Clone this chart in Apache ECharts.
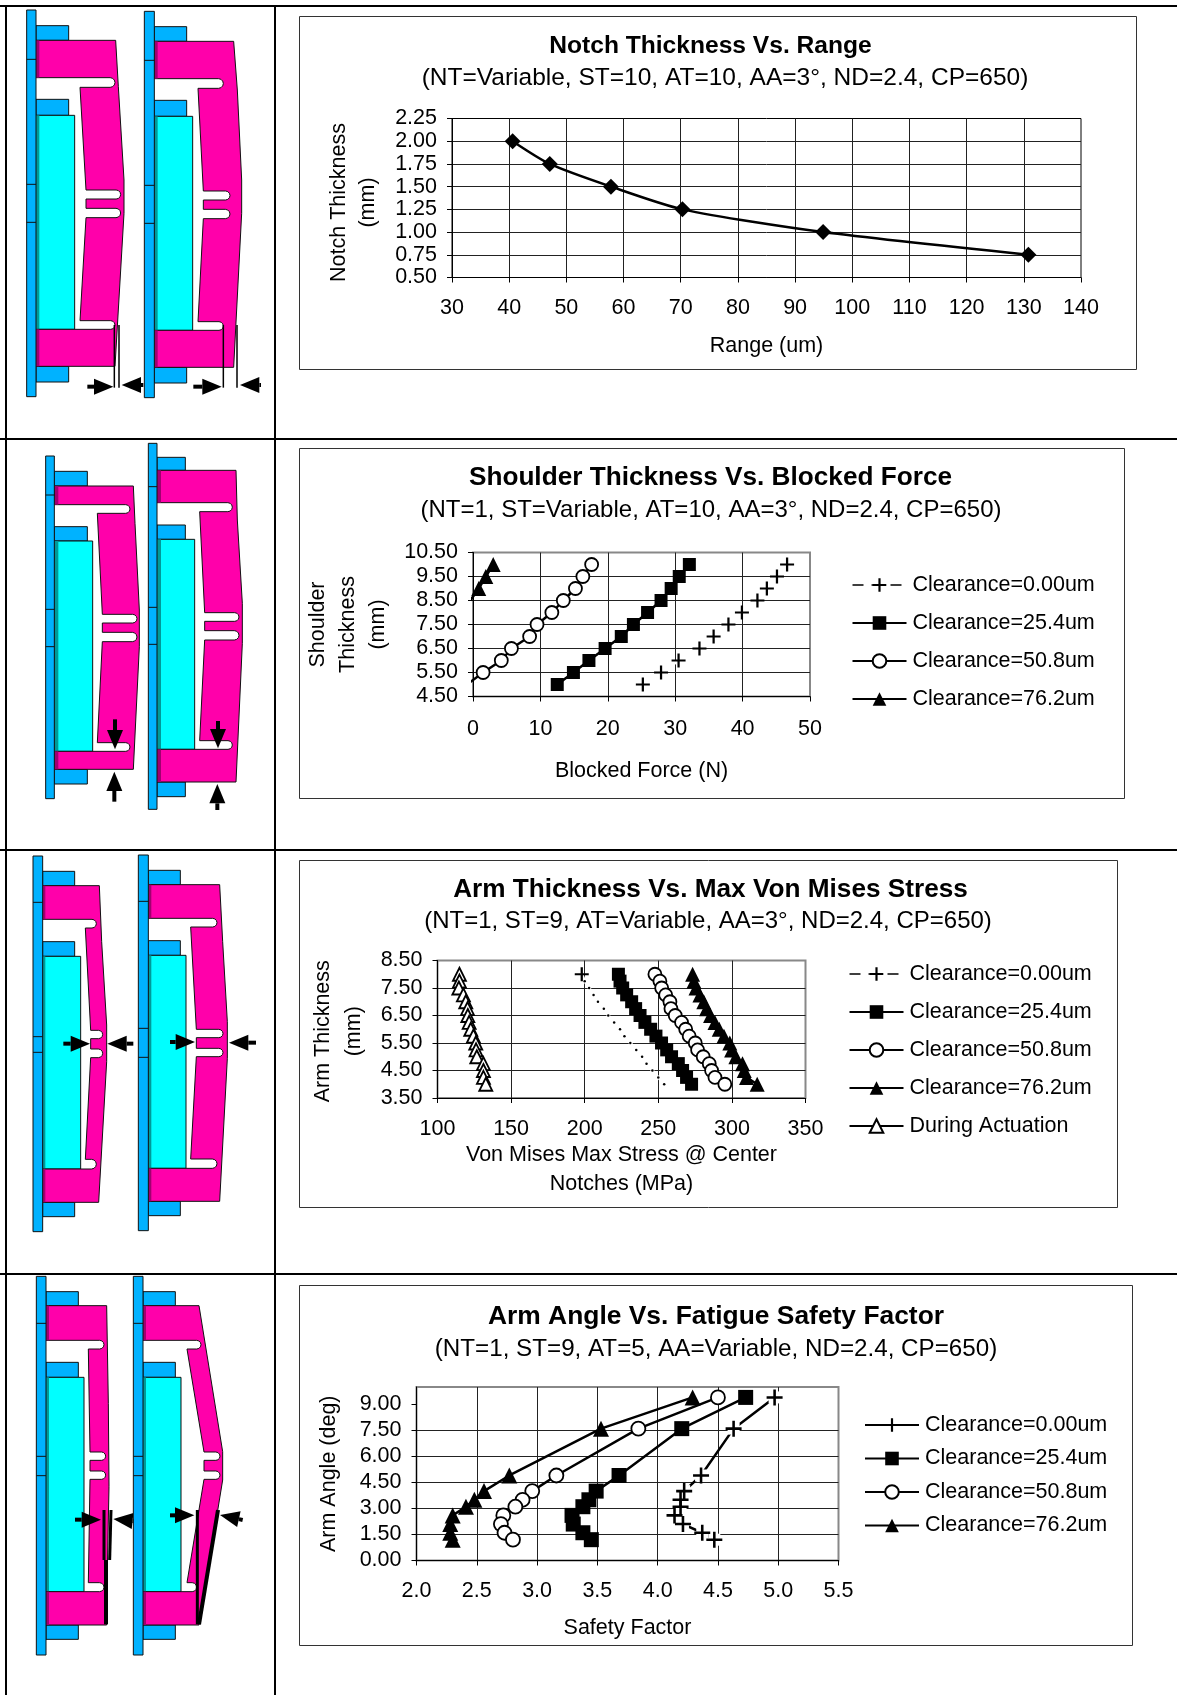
<!DOCTYPE html>
<html>
<head>
<meta charset="utf-8">
<title>Actuator charts</title>
<script src="https://cdn.jsdelivr.net/npm/echarts@6/dist/echarts.min.js"></script>
<style>
  html, body { margin: 0; padding: 0; background: #fff; }
  #main { width: 1177px; height: 1695px; }
</style>
</head>
<body>
<div id="main"></div>
<script>
// chart 1
const notchY = [2.0, 1.75, 1.5, 1.25, 1.0, 0.75]
const notchRange = [40.6, 47.1, 57.8, 70.3, 94.9, 130.8]
const notchTicks = [0.5, 0.75, 1.0, 1.25, 1.5, 1.75, 2.0, 2.25]

// chart 2
const shoulderY = [5, 5.5, 6, 6.5, 7, 7.5, 8, 8.5, 9, 9.5, 10]
const shoulderC0 = [25.2, 27.9, 30.5, 33.6, 35.7, 37.9, 39.9, 42.2, 43.6, 45.1, 46.6]
const shoulderC25 = [12.5, 14.9, 17.2, 19.6, 22.0, 23.8, 25.9, 27.9, 29.4, 30.6, 32.1]
const shoulderC50 = [-0.9, 1.5, 4.2, 5.7, 8.4, 9.5, 11.7, 13.4, 15.2, 16.3, 17.6]
const shoulderC76Y = [8.5, 9, 9.5, 10]
const shoulderC76 = [-0.4, 0.85, 1.9, 3.0]
const shoulderTicks = [4.5, 5.5, 6.5, 7.5, 8.5, 9.5, 10.5]

// chart 3
const armY = [8, 7.75, 7.5, 7.25, 7, 6.75, 6.5, 6.25, 6, 5.75, 5.5, 5.25, 5, 4.75, 4.5, 4.25, 4]
const armC0 = [198, 200, 203, 206, 209, 213, 216, 220, 224, 227, 231, 235, 239, 242, 246, 250, 254]
const armC25 = [222.9, 224, 225.8, 228.5, 231.9, 234.6, 237.6, 240.9, 244.8, 248.4, 252.2, 255.7, 259, 263.6, 266.5, 269.2, 272.6]
const armC50 = [247.7, 251.1, 252.3, 255, 257.9, 258.6, 261.5, 265.8, 268.6, 271, 275.1, 276.7, 280.5, 284.6, 286.2, 288.5, 295.2]
const armC76 = [273.3, 274.2, 275.6, 278.3, 280.9, 282.8, 285.5, 288.5, 291.4, 294.6, 298.6, 299.8, 302.7, 307.2, 308.4, 309.9, 317.2]
const armActuation = [114.9, 114.9, 114.5, 117.6, 119.2, 120.4, 120.6, 121.5, 122.6, 124.4, 126, 126.2, 126.7, 131.2, 131.2, 131.2, 132.8]
const armTicks = [3.5, 4.5, 5.5, 6.5, 7.5, 8.5]

// chart 4
const angleY = [9.4, 7.6, 4.9, 4, 3.5, 3.1, 2.6, 2.1, 1.6, 1.2]
const angleC0 = [4.97, 4.63, 4.36, 4.22, 4.19, 4.19, 4.14, 4.21, 4.37, 4.47]
const angleC25 = [4.73, 4.2, 3.68, 3.49, 3.43, 3.38, 3.29, 3.30, 3.38, 3.45]
const angleC50 = [4.5, 3.84, 3.16, 2.96, 2.88, 2.82, 2.72, 2.70, 2.73, 2.80]
const angleC76 = [4.29, 3.53, 2.77, 2.56, 2.48, 2.41, 2.30, 2.28, 2.28, 2.30]
const angleTicks = [0, 1.5, 3, 4.5, 6, 7.5, 9]

const FONT = '"Liberation Sans", Arial, sans-serif'
const TEXT_SIZE = 21.5
const PLUS = 'path://M4.2 0h1.6v4.2h4.2v1.6h-4.2v4.2h-1.6v-4.2h-4.2v-1.6h4.2z'
const BLACK = '#000'
const MAGENTA = '#ff00aa'
const RAIL = '#00b2ff'

const pairs = (xs, ys) => xs.map((v, i) => [v, ys[i]])

function lineSeries (name, xs, ys, idx, symbol, size, extra) {
  return Object.assign({
    name: name,
    type: 'line',
    xAxisIndex: idx,
    yAxisIndex: idx,
    data: pairs(xs, ys),
    symbol: symbol,
    symbolSize: size,
    showSymbol: true,
    showAllSymbol: true,
    lineStyle: { color: BLACK, width: 2.5 },
    itemStyle: { color: BLACK },
    emphasis: { disabled: true },
    animation: false
  }, extra || {})
}
const openMark = { itemStyle: { color: '#fff', borderColor: BLACK, borderWidth: 1.8 } }

function xAxis (idx, min, max, interval, decimals, name, gap, margin) {
  return {
    type: 'value', gridIndex: idx, min: min, max: max, interval: interval,
    name: name, nameLocation: 'middle', nameGap: gap,
    nameTextStyle: { fontFamily: FONT, fontSize: TEXT_SIZE, color: BLACK, lineHeight: 29 },
    axisLine: { onZero: false, lineStyle: { color: BLACK, width: 1 } },
    axisTick: { length: 5, lineStyle: { color: BLACK } },
    axisLabel: { fontFamily: FONT, fontSize: TEXT_SIZE, color: BLACK, margin: margin, formatter: v => v.toFixed(decimals), hideOverlap: false },
    splitLine: { show: true, showMinLine: false, showMaxLine: false, lineStyle: { color: '#222', width: 1 } }
  }
}
function yAxis (idx, min, max, ticks, decimals, name, gap, lineHeight, namePad) {
  return {
    type: 'value', gridIndex: idx, min: min, max: max,
    name: name, nameLocation: 'middle', nameGap: gap, nameRotate: 90,
    nameTextStyle: { fontFamily: FONT, fontSize: TEXT_SIZE, color: BLACK, lineHeight: lineHeight, padding: [0, namePad || 0, 0, 0] },
    axisLine: { onZero: false, lineStyle: { color: BLACK, width: 1 } },
    axisTick: { length: 5, customValues: ticks, lineStyle: { color: BLACK } },
    axisLabel: { fontFamily: FONT, fontSize: TEXT_SIZE, color: BLACK, margin: 15, customValues: ticks, formatter: v => v.toFixed(decimals), hideOverlap: false },
    splitLine: { show: true, showMinLine: false, showMaxLine: false, lineStyle: { color: '#222', width: 1 } }
  }
}
function legend (left, top, gap, items) {
  return {
    orient: 'vertical', left: left, top: top, padding: 0,
    itemWidth: 54, itemHeight: 17, itemGap: gap,
    selectedMode: false,
    textStyle: { fontFamily: FONT, fontSize: TEXT_SIZE, color: BLACK, padding: [0, 0, 0, 1] },
    formatter: n => n.split('|')[1],
    data: items
  }
}

// ---- the actuator sketches, numbers are pixels of a 3x crop of the sketch column
const sketches = [
  { o: [0, 0], rail: [80, 108, 30, 1190], seams: [178, 553, 667], blockR: 206, cyanR: 224, stripR: 118,
    y: [77, 121, 233, 262, 298, 346, 570, 597, 625, 653, 962, 988, 1099, 1146],
    outer: [[347, 121], [355, 260], [372, 540], [372, 640], [345, 1099]], inner: [240, 258, 240], slotTip: 345, notchTip: 362, botR: 342,
    lines: [[343, 975, 343, 1163, 1.5], [357, 975, 357, 1163, 1.5]], arrows: [[262, 1160, 340, 1160], [430, 1155, 365, 1155]] },
  { o: [0, 0], rail: [433, 463, 34, 1193], seams: [181, 556, 670], blockR: 560, cyanR: 578, stripR: 473,
    y: [80, 124, 236, 265, 301, 349, 573, 600, 628, 656, 965, 991, 1102, 1149],
    outer: [[701, 124], [712, 270], [725, 540], [725, 640], [701, 1102]], inner: [594, 610, 594], slotTip: 670, notchTip: 690, botR: 701,
    lines: [[670, 975, 670, 1163, 1.5], [711, 975, 711, 1163, 1.5]], arrows: [[580, 1160, 665, 1160], [783, 1155, 720, 1155]] },
  { o: [0, 430], rail: [137, 163, 78, 1106], seams: [195, 538, 650], blockR: 262, cyanR: 278, stripR: 175,
    y: [124, 168, 224, 250, 290, 333, 553, 579, 607, 635, 938, 964, 1018, 1062],
    outer: [[400, 168], [405, 280], [418, 540], [418, 650], [400, 1018]], inner: [292, 307, 292], slotTip: 390, notchTip: 411, botR: 400,
    lines: [], arrows: [[345, 868, 345, 958], [343, 1115, 343, 1025]] },
  { o: [0, 430], rail: [445, 471, 40, 1138], seams: [170, 532, 643], blockR: 556, cyanR: 584, stripR: 483,
    y: [82, 121, 218, 245, 285, 328, 548, 574, 602, 630, 932, 958, 1056, 1100],
    outer: [[708, 121], [712, 270], [727, 520], [727, 640], [708, 1056]], inner: [599, 614, 599], slotTip: 697, notchTip: 717, botR: 708,
    lines: [], arrows: [[654, 873, 654, 955], [652, 1140, 652, 1062]] },
  { o: [0, 845], rail: [99, 128, 33, 1160], seams: [172, 575, 622], blockR: 224, cyanR: 242, stripR: 136,
    y: [79, 122, 223, 249, 290, 334, 556, 581, 612, 638, 943, 972, 1072, 1115],
    outer: [[298, 122], [305, 290], [320, 540], [320, 650], [296, 1072]], inner: [256, 272, 256], slotTip: 289, notchTip: 308, botR: 298,
    lines: [], arrows: [[190, 596, 270, 596], [400, 596, 322, 596]] },
  { o: [0, 845], rail: [415, 445, 30, 1157], seams: [169, 550, 637], blockR: 541, cyanR: 558, stripR: 454,
    y: [76, 119, 220, 246, 287, 331, 553, 578, 610, 635, 942, 970, 1069, 1112],
    outer: [[659, 119], [668, 290], [682, 530], [682, 640], [659, 1069]], inner: [572, 589, 572], slotTip: 651, notchTip: 669, botR: 659,
    lines: [], arrows: [[510, 591, 585, 591], [768, 593, 687, 593]] },
  { o: [0, 1270], rail: [109, 138, 19, 1155], seams: [160, 559, 617], blockR: 235, cyanR: 252, stripR: 147,
    y: [65, 107, 211, 237, 277, 322, 546, 571, 603, 628, 938, 965, 1065, 1108],
    outer: [[320, 107], [325, 400], [327, 650], [322, 900], [320, 1065]], inner: [265, 270, 265], slotTip: 312, notchTip: 317, botR: 320,
    lines: [[312, 720, 312, 870, 3], [333, 720, 329, 870, 3], [318, 870, 318, 1063, 4]], arrows: [[225, 749, 303, 749], [415, 755, 340, 747]] },
  { o: [0, 1270], rail: [400, 429, 19, 1155], seams: [160, 559, 617], blockR: 526, cyanR: 543, stripR: 438,
    y: [65, 107, 211, 237, 277, 322, 546, 571, 603, 628, 938, 965, 1065, 1108],
    outer: [[597, 107], [668, 545], [668, 630], [597, 1065]], inner: [561, 612, 561], slotTip: 603, slotTip2: 590, notchTip: 660, botR: 597,
    lines: [[592, 720, 592, 1063, 3], [654, 720, 597, 1063, 4]], arrows: [[510, 736, 583, 736], [728, 750, 660, 735]] }
]

function drawSketch (s) {
  const px = v => v / 3 + s.o[0]
  const py = v => v / 3 + s.o[1]
  const pt = p => [px(p[0]), py(p[1])]
  const out = []
  const box = (x1, y1, x2, y2, fill, stroke) => out.push({
    type: 'rect', shape: { x: px(x1), y: py(y1), width: (x2 - x1) / 3, height: (y2 - y1) / 3 },
    style: { fill: fill, stroke: stroke === undefined ? '#111' : stroke, lineWidth: 1 }
  })
  const tip = (x, a, b) => {
    const r = (b - a) / 2
    const res = []
    for (let k = 0; k <= 6; k++) {
      const t = -Math.PI / 2 + k * Math.PI / 6
      res.push([x - r + r * Math.cos(t), (a + b) / 2 + r * Math.sin(t)])
    }
    return res
  }
  const [b1, m1, m2, s1, b2, c1, n1, n2, n3, n4, s2, m3, m4, b3] = s.y
  const L = s.rail[1]
  box(L, b1, s.blockR, m1, RAIL)
  box(L, b2, s.blockR, c1, RAIL)
  box(L, m4, s.blockR, b3, RAIL)
  box(L, c1, s.cyanR, m3, '#00ffff')
  box(L, c1, s.stripR, m3, '#009a9a', null)
  const shape = [[L, m1]].concat(s.outer, [[L, m4], [L, m3]],
    tip(s.slotTip2 || s.slotTip, s2, m3).reverse(),
    [[s.inner[2], s2], [s.inner[1], n4]],
    tip(s.notchTip, n3, n4).reverse(),
    [[s.inner[1], n3], [s.inner[1], n2]],
    tip(s.notchTip, n1, n2).reverse(),
    [[s.inner[1], n1], [s.inner[0], s1]],
    tip(s.slotTip, m2, s1).reverse(),
    [[L, m2]])
  out.push({ type: 'polygon', shape: { points: shape.map(pt) }, style: { fill: MAGENTA, stroke: '#111', lineWidth: 1 } })
  box(L, m1, s.stripR, m2, '#a00070', null)
  box(L, m3, s.stripR, m4, '#a00070', null)
  box(s.rail[0], s.rail[2], s.rail[1], s.rail[3], RAIL)
  s.seams.forEach(y => out.push({
    type: 'line', shape: { x1: px(s.rail[0]), y1: py(y), x2: px(s.rail[1]), y2: py(y) }, style: { stroke: '#111', lineWidth: 1 }
  }))
  s.lines.forEach(l => out.push({
    type: 'line', shape: { x1: px(l[0]), y1: py(l[1]), x2: px(l[2]), y2: py(l[3]) }, style: { stroke: BLACK, lineWidth: l[4] }
  }))
  s.arrows.forEach(a => {
    const dx = a[2] - a[0]
    const dy = a[3] - a[1]
    const len = Math.hypot(dx, dy)
    const ux = dx / len
    const uy = dy / len
    const hx = a[2] - ux * 58
    const hy = a[3] - uy * 58
    out.push({ type: 'line', shape: { x1: px(a[0]), y1: py(a[1]), x2: px(hx), y2: py(hy) }, style: { stroke: BLACK, lineWidth: 4 } })
    out.push({ type: 'polygon', shape: { points: [[a[2], a[3]], [hx - uy * 24, hy + ux * 24], [hx + uy * 24, hy - ux * 24]].map(pt) }, style: { fill: BLACK } })
  })
  return out
}

function text (str, x, y, size, bold) {
  return {
    type: 'text', x: x, y: y,
    style: { text: str, align: 'center', verticalAlign: 'middle', fill: BLACK, font: (bold ? 'bold ' : '') + size + 'px ' + FONT }
  }
}
function frame (x, y, w, h) {
  return { type: 'rect', shape: { x: x, y: y, width: w, height: h }, style: { fill: 'none', stroke: '#333', lineWidth: 1 } }
}
function rule (x1, y1, x2, y2) {
  return { type: 'line', shape: { x1: x1, y1: y1, x2: x2, y2: y2 }, style: { stroke: BLACK, lineWidth: 2 } }
}

let elements = [
  rule(0, 6, 1177, 6), rule(0, 439, 1177, 439), rule(0, 850, 1177, 850), rule(0, 1274, 1177, 1274),
  rule(6, 6, 6, 1695), rule(275, 6, 275, 1695),
  frame(299.5, 16.5, 837, 353), frame(299.5, 448.5, 825, 350), frame(299.5, 860.5, 818, 347), frame(299.5, 1285.5, 833, 360),
  text('Notch Thickness Vs. Range', 710.5, 46.5, 24.6, true),
  text('(NT=Variable, ST=10, AT=10, AA=3°, ND=2.4, CP=650)', 725, 78, 24.5),
  text('Shoulder Thickness Vs. Blocked Force', 710.5, 478, 26.2, true),
  text('(NT=1, ST=Variable, AT=10, AA=3°, ND=2.4, CP=650)', 711, 510, 24),
  text('Arm Thickness Vs. Max Von Mises Stress', 710.5, 890, 26.2, true),
  text('(NT=1, ST=9, AT=Variable, AA=3°, ND=2.4, CP=650)', 708, 921, 24),
  text('Arm Angle Vs. Fatigue Safety Factor', 716, 1317, 26.4, true),
  text('(NT=1, ST=9, AT=5, AA=Variable, ND=2.4, CP=650)', 716, 1349, 24.2)
]
sketches.forEach(s => { elements = elements.concat(drawSketch(s)) })

const dashedLegend = { lineStyle: { color: BLACK, type: [11, 8], width: 1.5 } }
const c3Plus = armC0.map((v, i) => ({ value: [v, armY[i]], symbol: i ? 'circle' : PLUS, symbolSize: i ? 2.5 : 14 }))

const option = {
  backgroundColor: '#fff',
  animation: false,
  textStyle: { fontFamily: FONT },
  graphic: { elements: elements },
  grid: [
    { left: 452, width: 629, top: 118.5, height: 159, show: true, borderColor: BLACK, borderWidth: 1 },
    { left: 473, width: 337, top: 552.5, height: 144, show: true, borderColor: '#888', borderWidth: 2 },
    { left: 437.5, width: 368, top: 960.5, height: 137.5, show: true, borderColor: '#888', borderWidth: 2 },
    { left: 416.5, width: 422, top: 1387, height: 173.5, show: true, borderColor: '#888', borderWidth: 2 }
  ],
  xAxis: [
    xAxis(0, 30, 140, 10, 0, 'Range (um)', 54, 20),
    xAxis(1, 0, 50, 10, 0, 'Blocked Force (N)', 60, 22),
    xAxis(2, 100, 350, 50, 0, 'Von Mises Max Stress @ Center\nNotches (MPa)', 43, 20),
    xAxis(3, 2, 5.5, 0.5, 1, 'Safety Factor', 53, 20)
  ],
  yAxis: [
    yAxis(0, 0.5, 2.25, notchTicks, 2, 'Notch Thickness\n(mm)', 69, 29, 9),
    yAxis(1, 4.5, 10.5, shoulderTicks, 2, 'Shoulder\nThickness\n(mm)', 79.5, 30),
    yAxis(2, 3.5, 8.5, armTicks, 2, 'Arm Thickness\n(mm)', 68, 31, 4),
    yAxis(3, 0, 10, angleTicks, 2, 'Arm Angle (deg)', 75, 24)
  ],
  legend: [
    legend(851.5, 574, 16, [
      Object.assign({ name: 'c2|Clearance=0.00um' }, dashedLegend),
      { name: 'c2|Clearance=25.4um' }, { name: 'c2|Clearance=50.8um' }, { name: 'c2|Clearance=76.2um' }
    ]),
    legend(848.5, 963, 16, [
      Object.assign({ name: 'c3|Clearance=0.00um' }, dashedLegend),
      { name: 'c3|Clearance=25.4um' }, { name: 'c3|Clearance=50.8um' }, { name: 'c3|Clearance=76.2um' },
      { name: 'c3|During Actuation' }
    ]),
    legend(864, 1414, 11.5, [
      { name: 'c4|Clearance=0.00um' }, { name: 'c4|Clearance=25.4um' }, { name: 'c4|Clearance=50.8um' }, { name: 'c4|Clearance=76.2um' }
    ])
  ],
  series: [
    lineSeries('Notch', notchRange, notchY, 0, 'diamond', 16, { smooth: 0.25 }),

    lineSeries('c2|Clearance=0.00um', shoulderC0, shoulderY, 1, PLUS, 14, { lineStyle: { color: '#fff', width: 3 } }),
    lineSeries('c2|Clearance=25.4um', shoulderC25, shoulderY, 1, 'rect', 13),
    lineSeries('c2|Clearance=50.8um', shoulderC50, shoulderY, 1, 'circle', 13, openMark),
    lineSeries('c2|Clearance=76.2um', shoulderC76, shoulderC76Y, 1, 'triangle', 15),

    lineSeries('c3|Clearance=0.00um', armC0, armY, 2, PLUS, 14, { data: c3Plus, lineStyle: { color: '#fff', width: 3 } }),
    lineSeries('c3|Clearance=25.4um', armC25, armY, 2, 'rect', 13),
    lineSeries('c3|Clearance=50.8um', armC50, armY, 2, 'circle', 13, openMark),
    lineSeries('c3|Clearance=76.2um', armC76, armY, 2, 'triangle', 15),
    lineSeries('c3|During Actuation', armActuation, armY, 2, 'triangle', 13, openMark),

    lineSeries('c4 white backing', angleC0, angleY, 3, 'rect', 12, { lineStyle: { width: 0 }, itemStyle: { color: '#fff' } }),
    lineSeries('c4|Clearance=0.00um', angleC0, angleY, 3, PLUS, 16),
    lineSeries('c4|Clearance=25.4um', angleC25, angleY, 3, 'rect', 15),
    lineSeries('c4|Clearance=50.8um', angleC50, angleY, 3, 'circle', 14, openMark),
    lineSeries('c4|Clearance=76.2um', angleC76, angleY, 3, 'triangle', 16)
  ]
}

const chart = echarts.init(document.getElementById('main'), null, { renderer: 'canvas' })
chart.setOption(option)
</script>
</body>
</html>
